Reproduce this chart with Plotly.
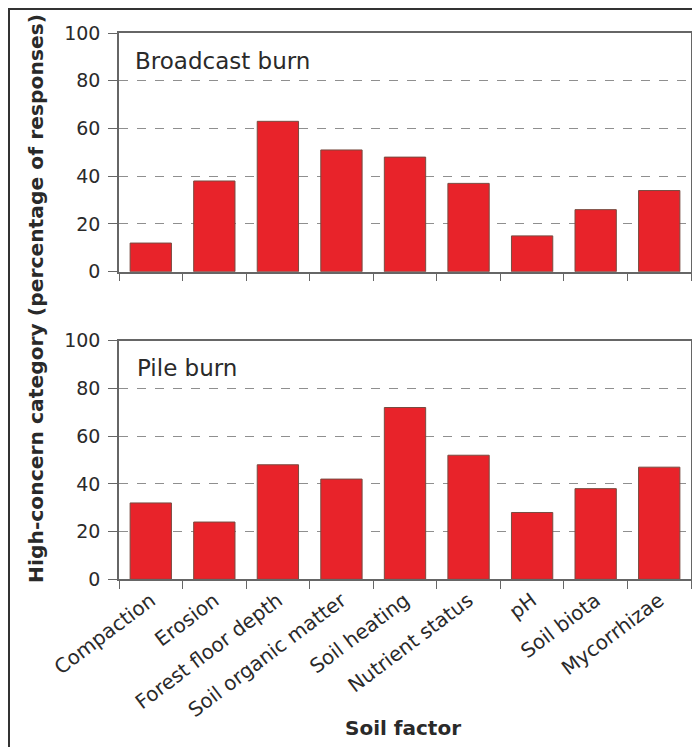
import plotly.graph_objects as go

categories = ["Compaction", "Erosion", "Forest floor depth", "Soil organic matter",
              "Soil heating", "Nutrient status", "pH", "Soil biota", "Mycorrhizae"]
broadcast_burn = [12, 38, 63, 51, 48, 37, 15, 26, 34]
pile_burn = [32, 24, 48, 42, 72, 52, 28, 38, 47]
y_ticks = [0, 20, 40, 60, 80, 100]

# page has an 8px body margin; figure fills the rest of the 700x747 window
OFF = 8
W, H = 700 - OFF, 747 - OFF
FONT = "DejaVu Sans"
TXT = "#2a2a2a"
AX = "#666666"
BAR = "#E8232A"
BAR_LINE = "rgb(120,75,65)"


def px(x):
    return (x - OFF) / W


def py(y):
    return 1 - (y - OFF) / H


fig = go.Figure()
fig.add_trace(go.Bar(x=categories, y=broadcast_burn, xaxis="x", yaxis="y",
                     marker=dict(color=BAR, line=dict(color=BAR_LINE, width=1)),
                     width=0.65, showlegend=False))
fig.add_trace(go.Bar(x=categories, y=pile_burn, xaxis="x2", yaxis="y2",
                     marker=dict(color=BAR, line=dict(color=BAR_LINE, width=1)),
                     width=0.65, showlegend=False))

xdom = [px(119), px(691)]
top_dom = [py(271.7), py(33)]
bot_dom = [py(579.3), py(340.7)]


def xax(show_labels, anchor):
    return dict(domain=xdom, anchor=anchor, type="category", automargin=False,
                showline=True, linecolor=AX, linewidth=1.5, mirror=True,
                ticks="outside", tickson="boundaries", ticklen=8, tickwidth=1.3,
                tickcolor=AX, showgrid=False, showticklabels=show_labels,
                tickangle=-37, tickfont=dict(family=FONT, size=20, color=TXT),
                range=[-0.5, len(categories) - 0.5])


def yax(dom, anchor):
    return dict(domain=dom, anchor=anchor, range=[0, 100], tickvals=y_ticks,
                automargin=False,
                showline=True, linecolor=AX, linewidth=1.5, mirror=True,
                ticks="outside", ticklen=9, tickwidth=1.3, tickcolor=AX,
                ticklabelstandoff=4,
                showgrid=True, gridcolor="#8f8f8f", gridwidth=1.2, griddash="dash",
                zeroline=False, tickfont=dict(family=FONT, size=19, color=TXT))


fig.update_layout(
    template="none",
    width=W, height=H,
    margin=dict(l=0, r=0, t=0, b=0, pad=0, autoexpand=False),
    paper_bgcolor="white", plot_bgcolor="white",
    bargap=0.35,
    xaxis=xax(False, "y"),
    yaxis=yax(top_dom, "x"),
    xaxis2=xax(True, "y2"),
    yaxis2=yax(bot_dom, "x2"),
    annotations=[
        dict(text="Broadcast burn", x=px(133), y=py(61), xref="paper", yref="paper",
             xanchor="left", yanchor="middle", showarrow=False,
             font=dict(family=FONT, size=23, color=TXT)),
        dict(text="Pile burn", x=px(135), y=py(368), xref="paper", yref="paper",
             xanchor="left", yanchor="middle", showarrow=False,
             font=dict(family=FONT, size=23, color=TXT)),
        dict(text="<b>High-concern category (percentage of responses)</b>",
             x=px(36), y=py(299), xref="paper", yref="paper", textangle=-90,
             xanchor="center", yanchor="middle", showarrow=False,
             font=dict(family=FONT, size=20.3, color=TXT)),
        dict(text="<b>Soil factor</b>", x=px(403), y=py(728), xref="paper", yref="paper",
             xanchor="center", yanchor="middle", showarrow=False,
             font=dict(family=FONT, size=20, color=TXT)),
    ],
    shapes=[
        dict(type="line", xref="paper", yref="paper", x0=1 / W, x1=1 / W,
             y0=0, y1=1 - 1 / H, line=dict(color="#333333", width=2)),
        dict(type="line", xref="paper", yref="paper", x0=0, x1=1,
             y0=1 - 1 / H, y1=1 - 1 / H, line=dict(color="#333333", width=2)),
    ],
)

fig.write_html("out.html")
